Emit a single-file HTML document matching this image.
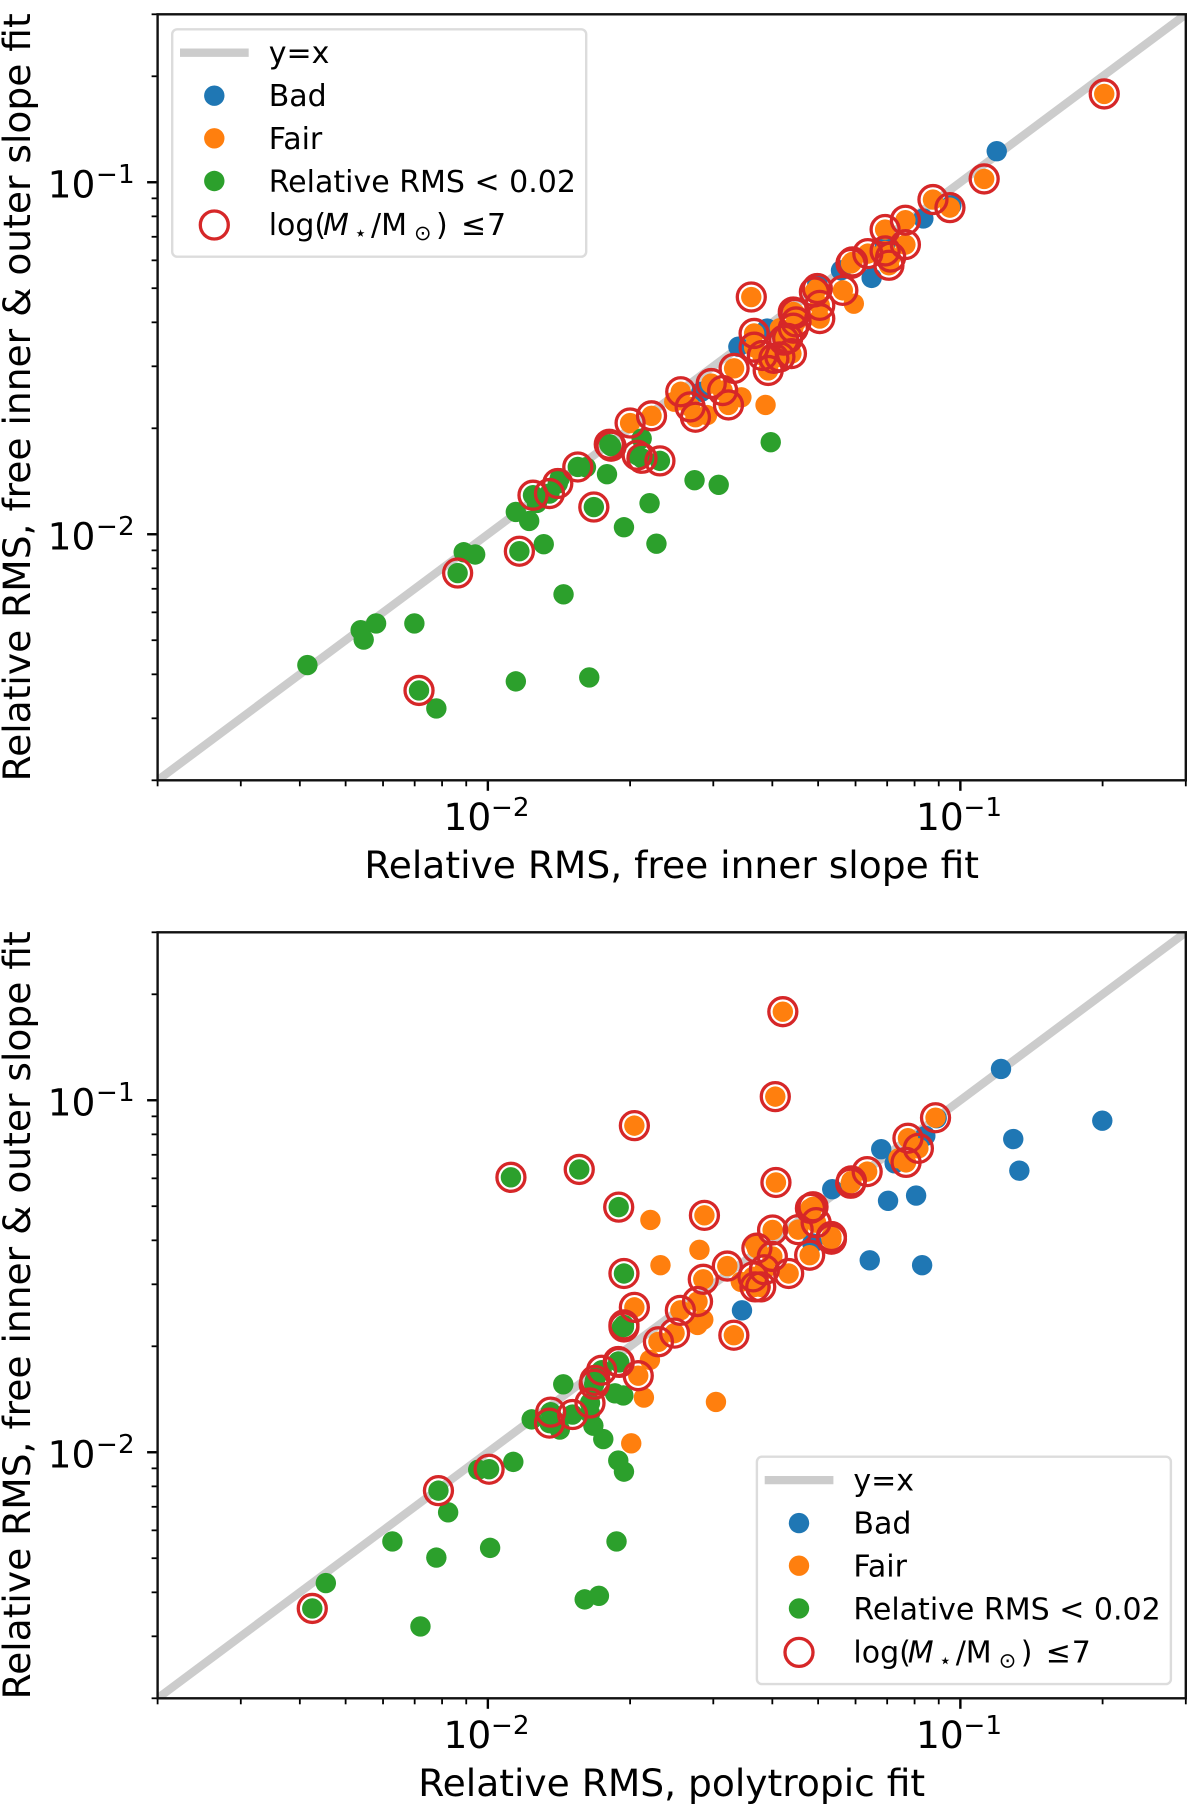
<!DOCTYPE html>
<html lang="en">
<head>
<meta charset="utf-8">
<title>Relative RMS comparison</title>
<style>
html,body{margin:0;padding:0;background:#fff;}
svg{display:block;}
text{font-family:"DejaVu Sans","Liberation Sans",sans-serif;fill:#000;}
.leg{font-size:30px;}
.sub{font-size:20.9px;}
</style>
</head>
<body>
<svg id="chart" width="1200" height="1804" viewBox="0 0 1200 1804" xmlns="http://www.w3.org/2000/svg">
<defs>
<clipPath id="clip-top"><rect x="157.6" y="14.3" width="1028.2" height="766"/></clipPath>
<clipPath id="clip-bottom"><rect x="157.6" y="932.3" width="1028.2" height="766"/></clipPath>
</defs>
<g id="panel-top"></g>
<g id="panel-bottom"></g>

<g>
<rect x="172.2" y="29.3" width="414" height="227.4" rx="5" fill="#fff" stroke="#dcdcdc" stroke-width="2.4"/>
<line x1="180" x2="248.7" y1="52.7" y2="52.7" stroke="#cccccc" stroke-width="8.3"/>
<text class="leg" x="268.7" y="63.2">y=x</text>
<circle cx="214.3" cy="95.7" r="10.2" fill="#1f77b4"/>
<text class="leg" x="268.7" y="106">Bad</text>
<circle cx="214.3" cy="138.3" r="10.2" fill="#ff7f0e"/>
<text class="leg" x="268.7" y="149">Fair</text>
<circle cx="214.3" cy="181" r="10.2" fill="#2ca02c"/>
<text class="leg" x="268.7" y="192">Relative RMS &lt; 0.02</text>
<circle cx="214.3" cy="225" r="14" fill="none" stroke="#d62728" stroke-width="3.3"/>
<text class="leg" y="235"><tspan x="268.7">log(</tspan><tspan x="323" font-style="italic">M</tspan><tspan class="sub" x="354" dy="5">⋆</tspan><tspan x="371" dy="-5">/M</tspan><tspan class="sub" x="414" dy="5">⊙</tspan><tspan x="436" dy="-5">)</tspan><tspan x="461">≤</tspan><tspan x="487">7</tspan></text>
</g>

<g transform="translate(584.7,1427.4)">
<rect x="172.2" y="29.3" width="414" height="227.4" rx="5" fill="#fff" stroke="#dcdcdc" stroke-width="2.4"/>
<line x1="180" x2="248.7" y1="52.7" y2="52.7" stroke="#cccccc" stroke-width="8.3"/>
<text class="leg" x="268.7" y="63.2">y=x</text>
<circle cx="214.3" cy="95.7" r="10.2" fill="#1f77b4"/>
<text class="leg" x="268.7" y="106">Bad</text>
<circle cx="214.3" cy="138.3" r="10.2" fill="#ff7f0e"/>
<text class="leg" x="268.7" y="149">Fair</text>
<circle cx="214.3" cy="181" r="10.2" fill="#2ca02c"/>
<text class="leg" x="268.7" y="192">Relative RMS &lt; 0.02</text>
<circle cx="214.3" cy="225" r="14" fill="none" stroke="#d62728" stroke-width="3.3"/>
<text class="leg" y="235"><tspan x="268.7">log(</tspan><tspan x="323" font-style="italic">M</tspan><tspan class="sub" x="354" dy="5">⋆</tspan><tspan x="371" dy="-5">/M</tspan><tspan class="sub" x="414" dy="5">⊙</tspan><tspan x="436" dy="-5">)</tspan><tspan x="461">≤</tspan><tspan x="487">7</tspan></text>
</g>
</svg>

<script>
// Shared axis data
const axisLimits = [0.002, 0.3];
const majorTicks = [0.01, 0.1];
const majorTickBases = ["10", "10"];
const majorTickExponents = ["\u22122", "\u22121"];
const minorDecades = [0.001, 0.01, 0.1];
const minorMultipliers = [2, 3, 4, 5, 6, 7, 8, 9];
const identityLine = [0.002, 0.3];

// Top panel values
const topBadX = [.1194,.0957,.0835,.0649,.0693,.0559,.0498,.0390,.0339,.0283];
const topBadY = [.1225,.0860,.0789,.0535,.0662,.0562,.0516,.0384,.0341,.0254];
const topFairX = [.2016,.1123,.0875,.09505,.0765,.0693,.0765,.0637,.0693,.0712,.0706,.0591,.0587,.0564,.0595,.0361,.0498,.0491,.0504,.0504,.0443,.0447,.0449,.0443,.0431,.0423,.0366,.0415,.0366,.0381,.0392,.0439,.0415,.0403,.0332,.0297,.0314,.0323,.0344,.0387,.0256,.0248,.0268,.0275,.0291,.0222,.0200];
const topFairY = [.1782,.1022,.0893,.0847,.0780,.0734,.0665,.0627,.0638,.0613,.0581,.0594,.0588,.0493,.0452,.0472,.0499,.0488,.0447,.0410,.0428,.0424,.0401,.0385,.0360,.0356,.0372,.0385,.0340,.0322,.0292,.0326,.0319,.0316,.0296,.0268,.0256,.0233,.0245,.0233,.0254,.0238,.0230,.0215,.0218,.0217,.0207];
const topGoodX = [.00415,.00538,.00546,.00580,.00699,.00715,.00778,.01146,.01639,.00863,.00889,.00940,.01166,.01313,.01446,.01146,.01223,.01246,.01270,.01350,.01406,.01420,.01550,.01613,.01676,.01787,.01807,.01823,.02116,.02070,.02119,.02313,.01941,.02199,.02274,.02738,.03080,.03969];
const topGoodY = [.00425,.00534,.00502,.00558,.00558,.00360,.00320,.00382,.00392,.00776,.00889,.00876,.00895,.00937,.00675,.01157,.01091,.01291,.01227,.01305,.01394,.01443,.01553,.01550,.01195,.01481,.01802,.01779,.01870,.01677,.01644,.01616,.01047,.01225,.00940,.01424,.01382,.01826];
const topLowMassX = [.2016,.1123,.0875,.09505,.0765,.0693,.0765,.0637,.0693,.0712,.0706,.0591,.0587,.0564,.0361,.0498,.0491,.0504,.0504,.0443,.0447,.0449,.0443,.0431,.0423,.0366,.0366,.0381,.0392,.0439,.0415,.0403,.0332,.0297,.0314,.0323,.0256,.0268,.0275,.0222,.0200,.00715,.00863,.01166,.01246,.01350,.01406,.01550,.01676,.01807,.01823,.02070,.02119,.02313];
const topLowMassY = [.1782,.1022,.0893,.0847,.0780,.0734,.0665,.0627,.0638,.0613,.0581,.0594,.0588,.0493,.0472,.0499,.0488,.0447,.0410,.0428,.0424,.0401,.0385,.0360,.0356,.0372,.0340,.0322,.0292,.0326,.0319,.0316,.0296,.0268,.0256,.0233,.0254,.0230,.0215,.0217,.0207,.00360,.00776,.00895,.01291,.01305,.01394,.01553,.01195,.01802,.01779,.01677,.01644,.01616];

// Bottom panel values
const bottomBadX = [.1219,.1997,.1294,.1333,.0891,.0843,.0680,.0726,.0806,.0703,.05356,.0587,.04861,.0643,.0830,.0345];
const bottomBadY = [.1227,.0875,.0776,.0631,.0889,.0792,.0726,.0662,.0536,.0518,.0559,.0582,.0392,.0351,.0340,.0253];
const bottomFairX = [.0421,.04058,.02042,.0886,.07746,.0815,.07675,.0635,.0588,.0586,.04816,.04877,.04952,.05335,.05335,.04536,.04005,.04071,.02873,.04798,.0371,.0400,.03848,.04331,.03212,.02857,.0364,.03676,.0378,.02778,.02555,.02042,.02484,.02296,.03316,.02081,.0740,.02208,.02804,.02319,.03676,.0343,.02857,.02778,.02203,.02139,.03039,.02011];
const bottomFairY = [.1785,.1024,.0847,.0892,.0780,.0730,.0666,.0627,.0590,.0581,.0493,.0498,.0449,.0410,.0403,.0429,.0428,.0584,.0471,.0363,.0380,.0360,.0330,.0322,.0338,.0310,.0315,.0295,.0295,.0268,.0253,.0258,.0218,.0206,.0215,.0165,.0684,.0457,.0376,.0340,.0392,.0305,.0238,.0230,.0183,.0143,.0139,.0106];
const bottomGoodX = [.01119,.01561,.01892,.01941,.01941,.01941,.01888,.01897,.01741,.01685,.01679,.01645,.01511,.01358,.0135,.01006,.00786,.00425,.01444,.01858,.01935,.01727,.01238,.0142,.01672,.01755,.01645,.01888,.01941,.01132,.00954,.00824,.00628,.00778,.01011,.00454,.0072,.01603,.01718,.01872,.0192];
const bottomGoodY = [.0604,.0636,.0497,.0322,.0230,.0227,.0181,.0180,.0171,.0160,.0156,.0138,.0128,.0130,.0121,.00895,.00778,.0036,.0156,.0147,.0145,.0169,.0124,.0116,.0119,.0109,.0129,.00947,.00881,.00939,.00892,.00675,.00558,.00502,.00535,.00425,.0032,.00382,.00391,.00558,.0226];
const bottomLowMassX = [.0421,.04058,.02042,.0886,.07746,.0815,.07675,.0635,.0588,.0586,.04816,.04877,.04952,.05335,.05335,.04536,.04005,.04071,.02873,.04798,.0371,.0400,.03848,.04331,.03212,.02857,.0364,.03676,.0378,.02778,.02555,.02042,.02484,.02296,.03316,.02081,.01119,.01561,.01892,.01941,.01941,.01941,.01888,.01897,.01741,.01685,.01679,.01645,.01511,.01358,.0135,.01006,.00786,.00425];
const bottomLowMassY = [.1785,.1024,.0847,.0892,.0780,.0730,.0666,.0627,.0590,.0581,.0493,.0498,.0449,.0410,.0403,.0429,.0428,.0584,.0471,.0363,.0380,.0360,.0330,.0322,.0338,.0310,.0315,.0295,.0295,.0268,.0253,.0258,.0218,.0206,.0215,.0165,.0604,.0636,.0497,.0322,.0230,.0227,.0181,.0180,.0171,.0160,.0156,.0138,.0128,.0130,.0121,.00895,.00778,.0036];

const NS = "http://www.w3.org/2000/svg";
const axLeft = 157.6, axRight = 1185.8;
const lmin = Math.log10(axisLimits[0]), lmax = Math.log10(axisLimits[1]);

function el(parent, tag, attrs, text) {
  const e = document.createElementNS(NS, tag);
  for (const k in attrs) e.setAttribute(k, attrs[k]);
  if (text !== undefined) e.textContent = text;
  parent.appendChild(e);
  return e;
}

function drawPanel(p) {
  const root = document.getElementById(p.id);
  const xs = v => axLeft + (Math.log10(v) - lmin) / (lmax - lmin) * (axRight - axLeft);
  const ys = v => p.bottom - (Math.log10(v) - lmin) / (lmax - lmin) * (p.bottom - p.top);

  const plot = el(root, "g", {"clip-path": "url(#" + p.clip + ")"});
  
  

  const ref = el(plot, "line", {x1: xs(identityLine[0]), y1: ys(identityLine[0]), x2: xs(identityLine[1]), y2: ys(identityLine[1]), stroke: "#cccccc", "stroke-width": 8.3});
  
  

  p.bad[0].forEach((v, i) => {
    const c = el(plot, "circle", {cx: xs(v), cy: ys(p.bad[1][i]), r: 10.2, fill: "#1f77b4"});
    
    
  });
  p.fair[0].forEach((v, i) => {
    const c = el(plot, "circle", {cx: xs(v), cy: ys(p.fair[1][i]), r: 10.2, fill: "#ff7f0e"});
    
    
  });
  p.good[0].forEach((v, i) => {
    const c = el(plot, "circle", {cx: xs(v), cy: ys(p.good[1][i]), r: 10.2, fill: "#2ca02c"});
    
    
  });
  p.low[0].forEach((v, i) => {
    const c = el(plot, "circle", {cx: xs(v), cy: ys(p.low[1][i]), r: 14, fill: "none", stroke: "#d62728", "stroke-width": 3.3});
    
    
  });

  // minor ticks
  const minorVals = [];
  minorDecades.forEach(d => minorMultipliers.forEach(m => {
    const v = d * m;
    if (v >= axisLimits[0] * 0.999 && v <= axisLimits[1] * 1.001) minorVals.push(v);
  }));
  minorVals.forEach(v => {
    const tx = el(root, "line", {x1: xs(v), x2: xs(v), y1: p.bottom, y2: p.bottom + 6, stroke: "#000", "stroke-width": 1.8});
    
    
    const ty = el(root, "line", {x1: axLeft - 6, x2: axLeft, y1: ys(v), y2: ys(v), stroke: "#000", "stroke-width": 1.8});
    
    
  });

  // major ticks and labels
  majorTicks.forEach((v, i) => {
    const tx = el(root, "line", {x1: xs(v), x2: xs(v), y1: p.bottom, y2: p.bottom + 10.5, stroke: "#000", "stroke-width": 2.4});
    
    
    const ty = el(root, "line", {x1: axLeft - 10.5, x2: axLeft, y1: ys(v), y2: ys(v), stroke: "#000", "stroke-width": 2.4});
    
    

    const xb = el(root, "text", {x: xs(v) - 44.3, y: p.bottom + 49.7, "font-size": 37.5}, majorTickBases[i]);
    
    
    const xe = el(root, "text", {x: xs(v) + 3.1, y: p.bottom + 35.7, "font-size": 26.2}, majorTickExponents[i]);
    
    

    const yb = el(root, "text", {x: 47.6, y: ys(v) + 15, "font-size": 37.5}, majorTickBases[i]);
    
    
    const ye = el(root, "text", {x: 96, y: ys(v) + 0.5, "font-size": 26.2}, majorTickExponents[i]);
    
    
  });

  // spines
  const frame = el(root, "rect", {x: axLeft, y: p.top, width: axRight - axLeft, height: p.bottom - p.top, fill: "none", stroke: "#111", "stroke-width": 2.4});
  
  

  // axis titles
  const xt = el(root, "text", {x: (axLeft + axRight) / 2, y: p.bottom + 97.7, "font-size": 37.6, "text-anchor": "middle"}, p.xTitle);
  
  
  const cy = (p.top + p.bottom) / 2;
  const yt = el(root, "text", {x: 0, y: 0, "font-size": 37.6, "text-anchor": "middle", transform: "translate(29.8," + cy + ") rotate(-90)"}, p.yTitle);
  
  
}

drawPanel({
  id: "panel-top", clip: "clip-top", top: 14.3, bottom: 780.3,
  xTitle: "Relative RMS, free inner slope fit",
  yTitle: "Relative RMS, free inner & outer slope fit",
  bad: [topBadX, topBadY], fair: [topFairX, topFairY], good: [topGoodX, topGoodY], low: [topLowMassX, topLowMassY]
});
drawPanel({
  id: "panel-bottom", clip: "clip-bottom", top: 932.3, bottom: 1698.3,
  xTitle: "Relative RMS, polytropic fit",
  yTitle: "Relative RMS, free inner & outer slope fit",
  bad: [bottomBadX, bottomBadY], fair: [bottomFairX, bottomFairY], good: [bottomGoodX, bottomGoodY], low: [bottomLowMassX, bottomLowMassY]
});
</script>
</body>
</html>
